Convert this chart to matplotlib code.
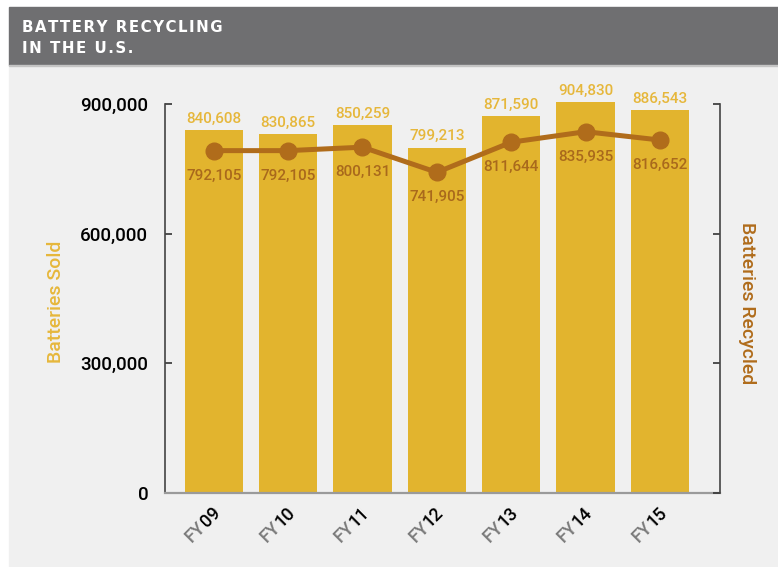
import matplotlib
matplotlib.use('Agg')
import matplotlib.pyplot as plt
from matplotlib.patches import Rectangle
from matplotlib.font_manager import FontProperties
from matplotlib.textpath import TextToPath
import numpy as np

# donnees
years = ['FY09', 'FY10', 'FY11', 'FY12', 'FY13', 'FY14', 'FY15']
sold = [840608, 830865, 850259, 799213, 871590, 904830, 886543]
recycled = [792105, 792105, 800131, 741905, 811644, 835935, 816652]
yticks = [0, 300000, 600000, 900000]

GOLD = '#e2b42e'
GOLD_TXT = '#e6b73b'
BROWN = '#b06c1b'
BROWN_TXT = '#a9691c'

plt.rcParams['font.family'] = ['Roboto', 'DejaVu Sans']
plt.rcParams['font.weight'] = 'medium'

W, H = 778, 567
fig = plt.figure(figsize=(W / 100, H / 100), dpi=100)
fig.patch.set_facecolor('white')

# fond gris clair + bandeau du titre
fig.add_artist(Rectangle((9 / W, 0), 1, 502 / H, transform=fig.transFigure,
                         color='#f0f0f0', zorder=0))
fig.add_artist(Rectangle((9 / W, 502 / H), 1, 58 / H, transform=fig.transFigure,
                         color='#6f6f71', zorder=0))
fig.add_artist(Rectangle((9 / W, 501 / H), 1, 1.2 / H, transform=fig.transFigure,
                         color='#c4c4c4', zorder=0))

def spaced(s):
    return '\u200a'.join(s)

fig.text(22 / W, 1 - 32 / H, spaced('BATTERY RECYCLING'), color='white',
         fontsize=10.8, fontweight='bold', family='DejaVu Sans')
fig.text(22 / W, 1 - 53 / H, spaced('IN THE U.S.'), color='white',
         fontsize=10.8, fontweight='bold', family='DejaVu Sans')

ax = fig.add_axes([165 / W, 74 / H, 555 / W, 389 / H])
ax.set_facecolor('none')
x = np.arange(len(years))
ax.bar(x, sold, width=0.785, color=GOLD, zorder=2, clip_on=False)
ax.set_xlim(-0.655, 6.806)
ax.set_ylim(0, 900000)
ax.set_yticks(yticks)
ax.set_yticklabels(['{:,}'.format(t) for t in yticks])
ax.tick_params(axis='y', direction='in', length=5, width=1.2, colors='#333333',
               labelsize=13.5, pad=12, labelcolor='black')
ax.set_xticks([])
for s in ['top', 'right']:
    ax.spines[s].set_visible(False)
ax.spines['left'].set_color('#444444')
ax.spines['left'].set_linewidth(1.2)
ax.spines['bottom'].set_color('#9a9a9a')
ax.spines['bottom'].set_linewidth(1.6)

for i, v in enumerate(sold):
    ax.annotate('{:,}'.format(v), (i, v), xytext=(0, 3), textcoords='offset points',
                ha='center', va='bottom', color=GOLD_TXT, fontsize=11,
                annotation_clip=False)

# etiquettes FY : "FY" en gris, chiffres en noir
fp = FontProperties(family='Roboto', size=13, weight='medium')
w_fy = TextToPath().get_text_width_height_descent('FY', fp, ismath=False)[0] - 0.3
ox, oy = -15.5, -36
c45 = np.cos(np.pi / 4)
for i, lab in enumerate(years):
    ax.annotate(lab[:2], (i, 0), xytext=(ox, oy), textcoords='offset points',
                rotation=45, rotation_mode='anchor', ha='left', va='baseline',
                color='#7a7a7a', fontproperties=fp, annotation_clip=False)
    ax.annotate(lab[2:], (i, 0), xytext=(ox + w_fy * c45, oy + w_fy * c45),
                textcoords='offset points', rotation=45, rotation_mode='anchor',
                ha='left', va='baseline', color='black', fontproperties=fp,
                annotation_clip=False)

ax2 = ax.twinx()
ax2.set_ylim(0, 900000)
ax2.plot(x, recycled, color=BROWN, lw=3.6, marker='o', ms=12, zorder=3)
ax2.set_yticks(yticks)
ax2.tick_params(axis='y', direction='in', length=5, width=1.2, colors='#333333',
                labelright=False)
for s in ['top', 'left', 'bottom']:
    ax2.spines[s].set_visible(False)
ax2.spines['right'].set_color('#444444')
ax2.spines['right'].set_linewidth(1.2)

for i, v in enumerate(recycled):
    ax2.annotate('{:,}'.format(v), (i, v), xytext=(0, -18), textcoords='offset points',
                 ha='center', va='center', color=BROWN_TXT, fontsize=11)

fig.text(56 / W, 1 - 302 / H, 'Batteries Sold', rotation=90, ha='center', va='center',
         color=GOLD_TXT, fontsize=14)
fig.text(747 / W, 1 - 303 / H, 'Batteries Recycled', rotation=-90, ha='center',
         va='center', color=BROWN, fontsize=14)

fig.savefig('out.png', dpi=100)
